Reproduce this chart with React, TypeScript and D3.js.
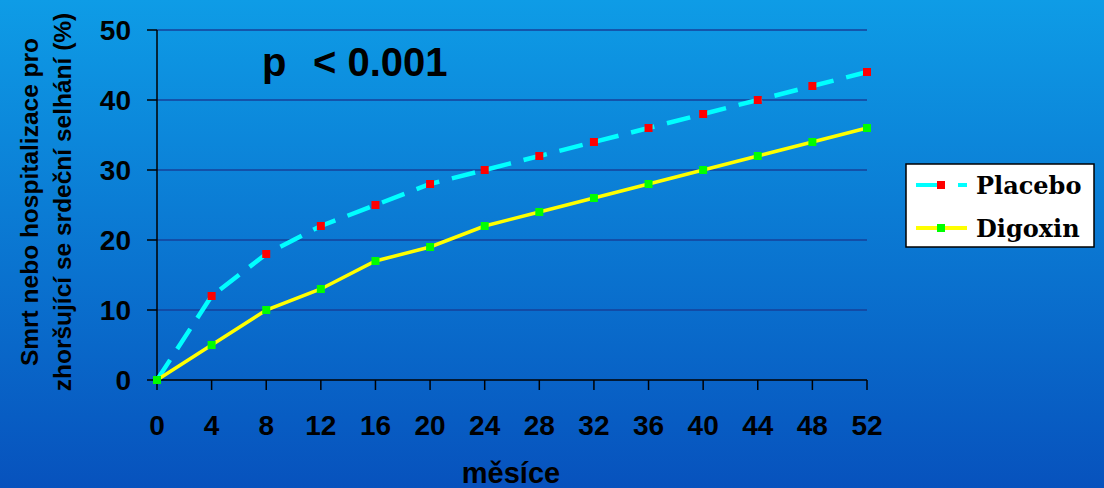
import React from "react";
import * as d3 from "d3";

const months = [0, 4, 8, 12, 16, 20, 24, 28, 32, 36, 40, 44, 48, 52];
const placebo = [0, 12, 18, 22, 25, 28, 30, 32, 34, 36, 38, 40, 42, 44];
const digoxin = [0, 5, 10, 13, 17, 19, 22, 24, 26, 28, 30, 32, 34, 36];
const yTicks = [0, 10, 20, 30, 40, 50];

const W = 1104;
const H = 488;
const sans = "Liberation Sans, Arial, sans-serif";
const serif = "DejaVu Serif, serif";

export default function App() {
  const x = d3.scaleLinear().domain([0, 52]).range([157, 867]);
  const y = d3.scaleLinear().domain([0, 50]).range([380, 30]);

  const line = d3
    .line<number>()
    .x((_, i) => x(months[i]))
    .y((d) => y(d));

  const marker = (cx: number, cy: number, fill: string, key: string) => (
    <rect key={key} x={cx - 4} y={cy - 4} width={8} height={8} fill={fill} />
  );

  return (
    <svg
      width={W}
      height={H}
      style={{ position: "absolute", left: 0, top: 0 }}
    >
      <defs>
        <linearGradient id="bg" x1="0" y1="0" x2="0" y2="1">
          <stop offset="0%" stopColor="#0e9ce6" />
          <stop offset="100%" stopColor="#0752bd" />
        </linearGradient>
      </defs>
      <rect width={W} height={H} fill="url(#bg)" />

      {/* gridlines */}
      {yTicks.slice(1).map((t) => (
        <line
          key={"g" + t}
          x1={x(0)}
          x2={x(52)}
          y1={y(t)}
          y2={y(t)}
          stroke="#16419a"
          strokeWidth={1.5}
        />
      ))}

      {/* axes */}
      <line x1={x(0)} x2={x(0)} y1={y(50)} y2={y(0)} stroke="#000" strokeWidth={1.5} />
      <line x1={x(0)} x2={x(52)} y1={y(0)} y2={y(0)} stroke="#000" strokeWidth={1.5} />
      {yTicks.map((t) => (
        <g key={"y" + t}>
          <line x1={x(0) - 10} x2={x(0)} y1={y(t)} y2={y(t)} stroke="#000" strokeWidth={1.5} />
          <text
            x={131}
            y={y(t)}
            dy="0.36em"
            textAnchor="end"
            fontFamily={sans}
            fontWeight="bold"
            fontSize={28}
          >
            {t}
          </text>
        </g>
      ))}
      {months.map((m) => (
        <g key={"x" + m}>
          <line x1={x(m)} x2={x(m)} y1={y(0)} y2={y(0) + 10} stroke="#000" strokeWidth={1.5} />
          <text
            x={x(m)}
            y={425}
            dy="0.36em"
            textAnchor="middle"
            fontFamily={sans}
            fontWeight="bold"
            fontSize={28}
          >
            {m}
          </text>
        </g>
      ))}

      <text x={511} y={473} dy="0.36em" textAnchor="middle" fontFamily={sans} fontWeight="bold" fontSize={29}>
        měsíce
      </text>

      <g transform="translate(0,202) rotate(-90)" fontFamily={sans} fontWeight="bold" fontSize={24.5} textAnchor="middle">
        <text x={0} y={29} dy="0.36em">Smrt nebo hospitalizace pro</text>
        <text x={0} y={62} dy="0.36em">zhoršující se srdeční selhání (%)</text>
      </g>

      <text x={262} y={76} fontFamily={sans} fontWeight="bold" fontSize={40}>
        p
        <tspan x={313}>{"< 0.001"}</tspan>
      </text>

      {/* series */}
      <path
        d={line(placebo) || ""}
        fill="none"
        stroke="#00ffff"
        strokeWidth={4.5}
        strokeDasharray="24 13"
      />
      <path d={line(digoxin) || ""} fill="none" stroke="#ffff00" strokeWidth={3.5} />
      {placebo.map((v, i) => marker(x(months[i]), y(v), "#ff0000", "p" + i))}
      {digoxin.map((v, i) => marker(x(months[i]), y(v), "#00ff00", "d" + i))}

      {/* legend */}
      <g>
        <rect x={906} y={164} width={188} height={83} fill="#fff" stroke="#000" strokeWidth={1.5} />
        <line x1={916} x2={942} y1={185} y2={185} stroke="#00ffff" strokeWidth={4} />
        <line x1={958} x2={967} y1={185} y2={185} stroke="#00ffff" strokeWidth={4} />
        {marker(941, 185, "#ff0000", "lp")}
        <line x1={916} x2={967} y1={228} y2={228} stroke="#ffff00" strokeWidth={4} />
        {marker(941, 228, "#00ff00", "ld")}
        <text x={976} y={185} dy="0.36em" fontFamily={serif} fontWeight="bold" fontSize={24}>
          Placebo
        </text>
        <text x={976} y={228} dy="0.36em" fontFamily={serif} fontWeight="bold" fontSize={24}>
          Digoxin
        </text>
      </g>
    </svg>
  );
}
